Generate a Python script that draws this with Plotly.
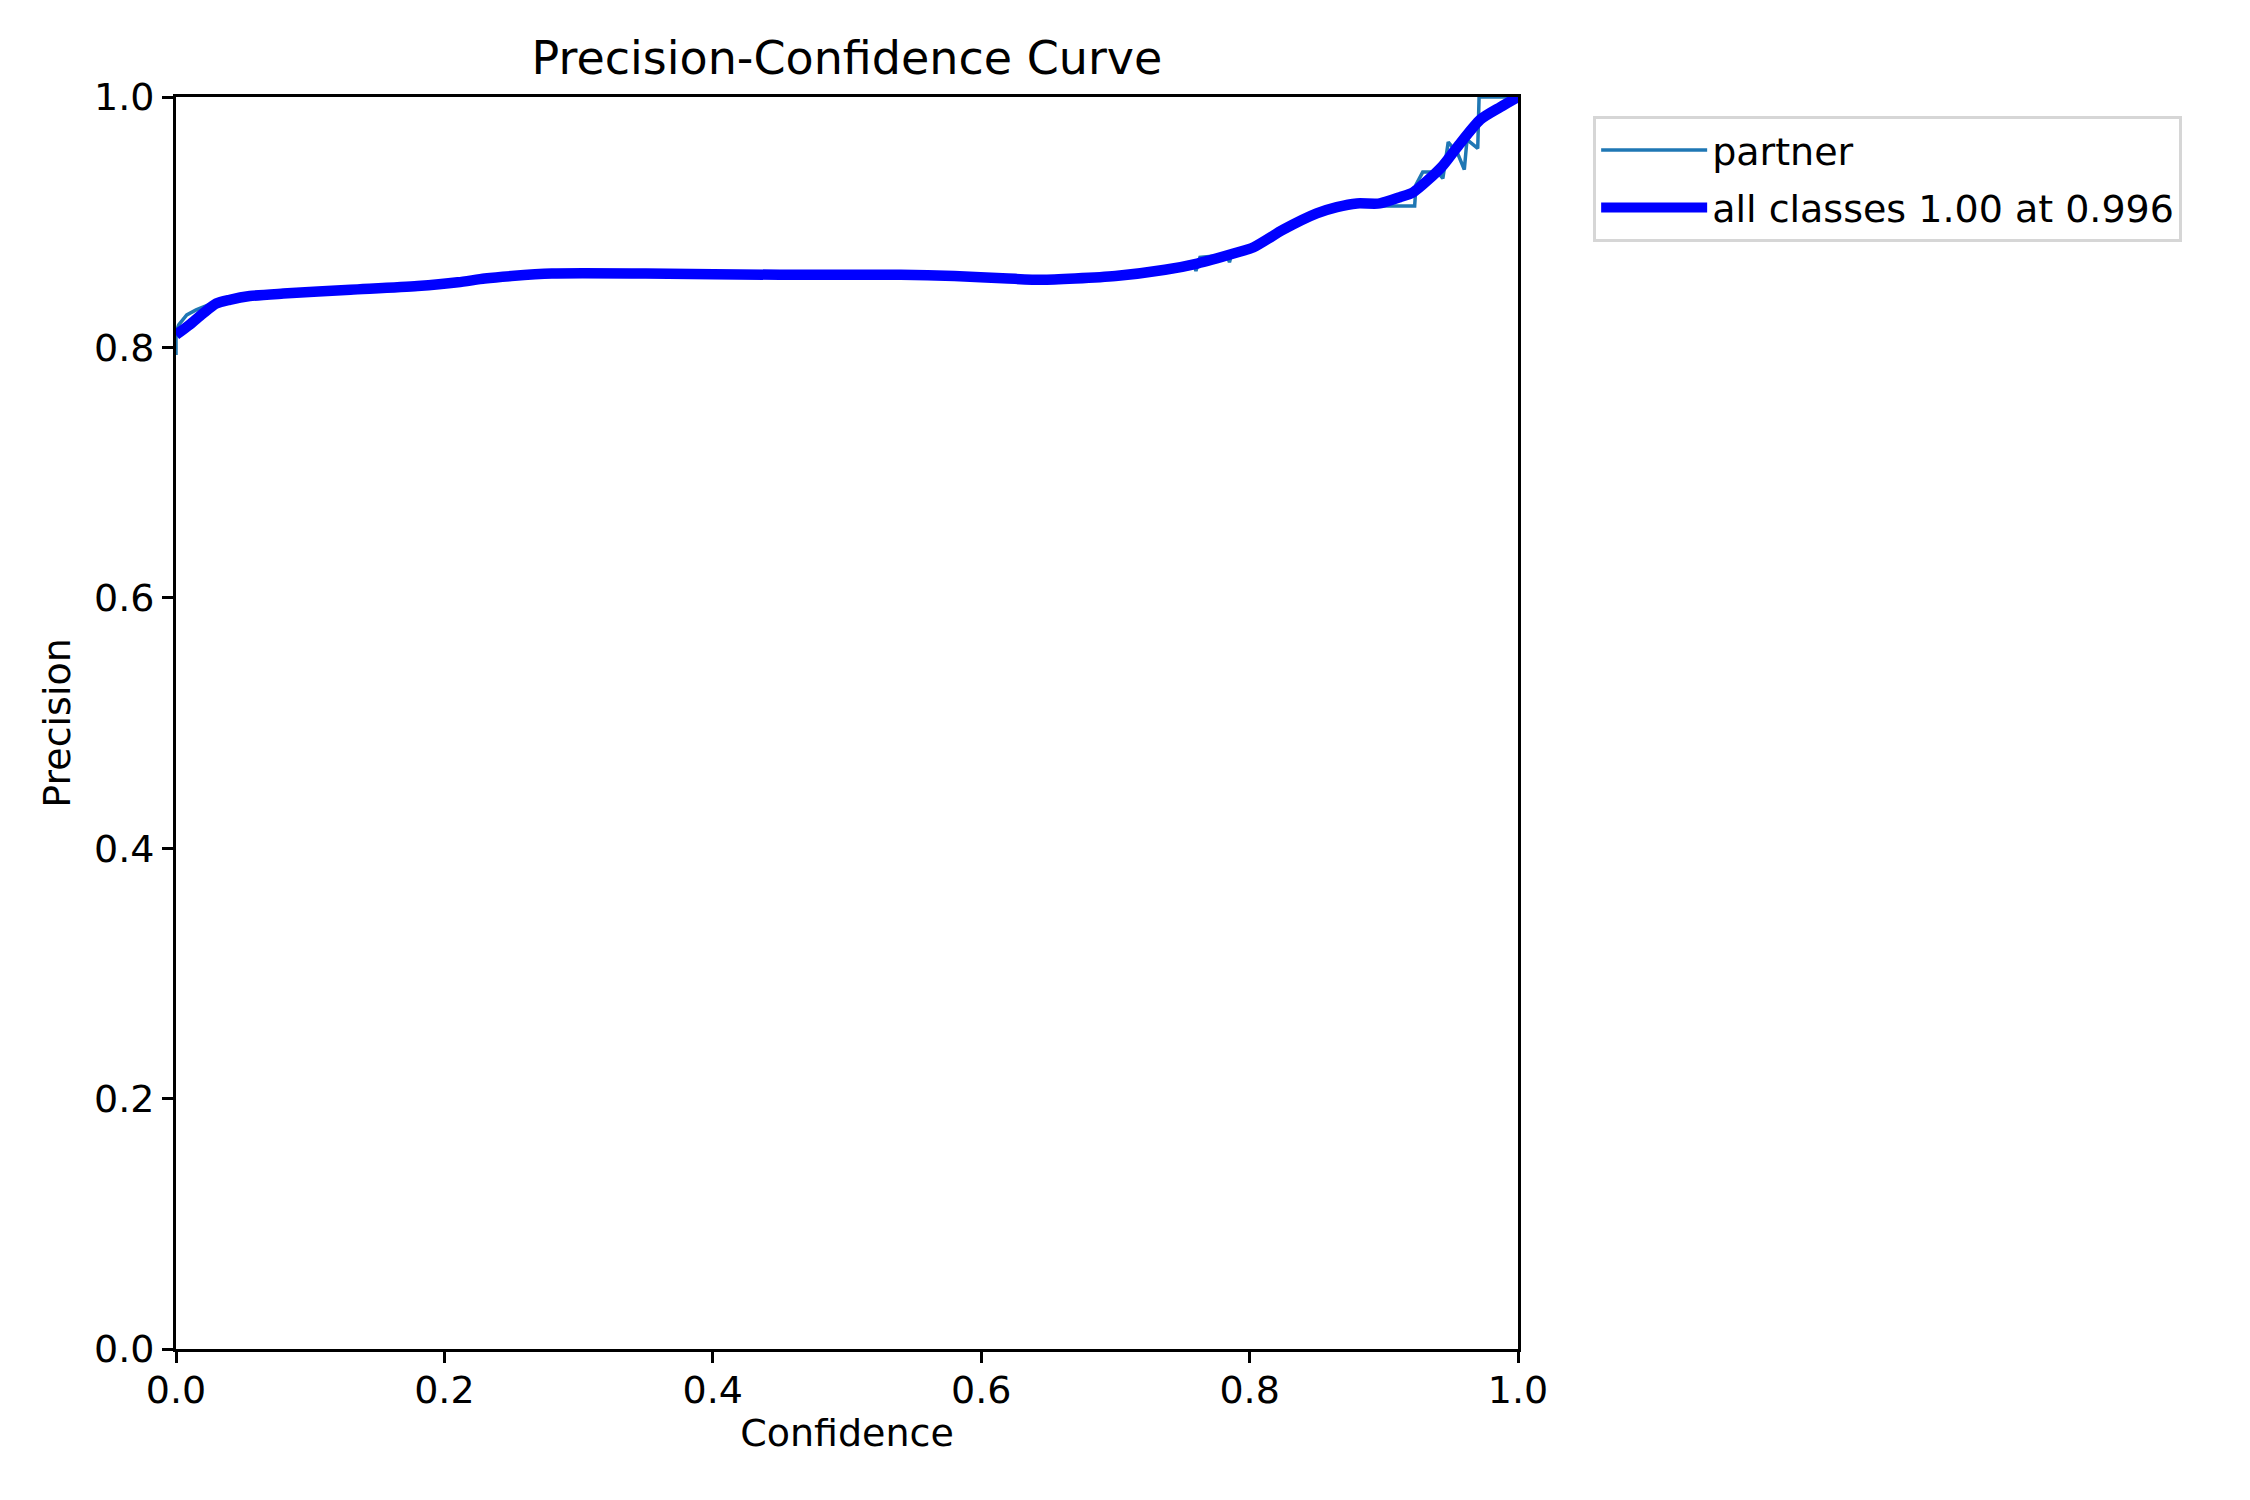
import plotly.graph_objects as go

# All-classes (smoothed) curve
all_conf = [0.0, 0.01, 0.02, 0.03, 0.04, 0.055, 0.08, 0.13, 0.18, 0.21, 0.23, 0.25, 0.28, 0.35,
            0.45, 0.54, 0.58, 0.62, 0.645, 0.67, 0.70, 0.737, 0.761, 0.788, 0.803, 0.825, 0.85,
            0.865, 0.88, 0.897, 0.912, 0.922, 0.943, 0.954, 0.972, 0.987, 1.0]
all_prec = [0.810, 0.818, 0.827, 0.835, 0.838, 0.841, 0.843, 0.846, 0.849, 0.852, 0.855, 0.857,
            0.859, 0.859, 0.858, 0.858, 0.857, 0.855, 0.854, 0.855, 0.857, 0.862, 0.867, 0.875,
            0.880, 0.894, 0.907, 0.912, 0.915, 0.915, 0.920, 0.924, 0.944, 0.959, 0.982, 0.992,
            1.0]

# Per-class curve "partner"
partner_conf = [0.0, 0.0, 0.002, 0.008, 0.015, 0.024, 0.03, 0.04, 0.055, 0.08, 0.13, 0.18, 0.21,
                0.23, 0.25, 0.28, 0.35, 0.45, 0.54, 0.58, 0.62, 0.645, 0.67, 0.70, 0.737, 0.759,
                0.760, 0.763, 0.783, 0.785, 0.787, 0.803, 0.825, 0.85, 0.865, 0.88, 0.90, 0.923,
                0.924, 0.929, 0.940, 0.944, 0.948, 0.955, 0.960, 0.962, 0.970, 0.971, 1.0]
partner_prec = [0.794, 0.812, 0.818, 0.826, 0.830, 0.834, 0.835, 0.838, 0.841, 0.843, 0.846,
                0.849, 0.852, 0.855, 0.857, 0.859, 0.859, 0.858, 0.858, 0.857, 0.855, 0.854,
                0.855, 0.857, 0.862, 0.866, 0.861, 0.872, 0.874, 0.868, 0.876, 0.880, 0.894,
                0.907, 0.912, 0.915, 0.913, 0.913, 0.930, 0.940, 0.940, 0.935, 0.964, 0.955,
                0.942, 0.966, 0.959, 1.0, 1.0]

best_label = "all classes 1.00 at 0.996"
x_ticks = [0.0, 0.2, 0.4, 0.6, 0.8, 1.0]
y_ticks = [0.0, 0.2, 0.4, 0.6, 0.8, 1.0]

FONT = "DejaVu Sans"
FS = 38
OFF = 8  # page body margin offset

fig = go.Figure()
fig.add_trace(go.Scatter(x=partner_conf, y=partner_prec, mode="lines", name="partner",
                         legendgroup="p", line=dict(color="#1f77b4", width=3.5)))
fig.add_trace(go.Scatter(x=all_conf, y=all_prec, mode="lines", name=best_label,
                         legendgroup="a",
                         line=dict(color="#0000ff", width=10.5, shape="spline", smoothing=0.7)))

axis_common = dict(
    showgrid=False, zeroline=False, showline=True, linecolor="black", linewidth=2.8,
    mirror=True, ticks="outside", ticklen=11, tickwidth=2.8, tickcolor="black",
    tickfont=dict(family=FONT, size=FS, color="black"), tickformat=".1f",
    range=[0, 1], fixedrange=True, automargin=False,
)

fig.update_layout(
    width=2250, height=1500,
    margin=dict(l=176 - OFF, r=732 + OFF, t=97 - OFF, b=151 + OFF, pad=0, autoexpand=False),
    paper_bgcolor="white", plot_bgcolor="white",
    title=dict(text="Precision-Confidence Curve", x=((176 + 1518) / 2 - OFF) / 2250,
               xanchor="center", y=1 - (58 - OFF) / 1500, yanchor="middle",
               font=dict(family=FONT, size=46, color="black")),
    xaxis=dict(axis_common, tickvals=x_ticks, ticklabelstandoff=-6,
               title=dict(text="Confidence", font=dict(family=FONT, size=FS, color="black"),
                          standoff=8)),
    yaxis=dict(axis_common, tickvals=y_ticks,
               title=dict(text="Precision", font=dict(family=FONT, size=FS, color="black"),
                          standoff=12)),
    legend=dict(x=1.056, y=0.985, xanchor="left", yanchor="top",
                bordercolor="#d6d6d6", borderwidth=3, bgcolor="white",
                font=dict(family=FONT, size=FS, color="black"),
                tracegroupgap=5, itemwidth=106),
    showlegend=True,
)

fig.write_html("out.html")
